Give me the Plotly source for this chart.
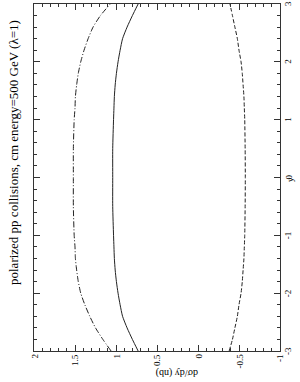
import plotly.graph_objects as go

# rapidity grid
rapidity = [-3.0, -2.8, -2.6, -2.4, -2.2, -2.0, -1.8, -1.6, -1.4, -1.2, -1.0, -0.5, 0.0,
            0.5, 1.0, 1.2, 1.4, 1.6, 1.8, 2.0, 2.2, 2.4, 2.6, 2.8, 3.0]
# dsigma/dy (nb) curves
dashdot_vals = [1.06, 1.16, 1.25, 1.32, 1.38, 1.43, 1.46, 1.48, 1.495, 1.50, 1.51, 1.52, 1.52,
                1.52, 1.51, 1.50, 1.495, 1.48, 1.46, 1.43, 1.39, 1.34, 1.28, 1.19, 1.07]
solid_vals = [0.73, 0.80, 0.865, 0.92, 0.95, 0.975, 0.995, 1.01, 1.02, 1.025, 1.03, 1.04, 1.04,
              1.04, 1.03, 1.025, 1.02, 1.01, 0.995, 0.975, 0.95, 0.92, 0.865, 0.80, 0.73]
dashed_vals = [-0.38, -0.42, -0.45, -0.48, -0.50, -0.525, -0.54, -0.55, -0.56, -0.565, -0.57, -0.575, -0.577,
               -0.575, -0.57, -0.565, -0.56, -0.55, -0.54, -0.525, -0.50, -0.48, -0.45, -0.42, -0.39]

xticks = [2, 1.5, 1, 0.5, 0, -0.5, -1]
xtick_labels = ["2", "1.5", "1", "0.5", "0", "-0.5", "-1"]
yticks = [-3, -2, -1, 0, 1, 2, 3]
ytick_labels = ["-3", "-2", "-1", "0", "1", "2", "3"]

title_text = "polarized pp collisions, cm energy=500 GeV (\u03bb=1)"
xlabel_text = "d\u03c3/dy (nb)"
ylabel_text = "y"

L, R, T, B = 34, 20, 4, 31
W, H = 300, 382
pw, ph = W - L - R, H - T - B

def px(xp):
    return (xp - L) / pw

def py(yp):
    return (H - B - yp) / ph

line_col = "#222"
axc = "#333"
font_tick = dict(family="Liberation Serif", size=9, color="black")

fig = go.Figure()
fig.add_trace(go.Scatter(x=dashdot_vals, y=rapidity, mode="lines",
                         line=dict(color=line_col, width=1, dash="6px,2px,1px,2px", shape="spline", smoothing=0.6)))
fig.add_trace(go.Scatter(x=solid_vals, y=rapidity, mode="lines",
                         line=dict(color=line_col, width=1, shape="spline", smoothing=0.6)))
fig.add_trace(go.Scatter(x=dashed_vals, y=rapidity, mode="lines",
                         line=dict(color=line_col, width=1, dash="4px,2px", shape="spline", smoothing=0.6)))
# empty trace to activate the mirror axes carrying ticks on the top/left sides
fig.add_trace(go.Scatter(x=[], y=[], xaxis="x2", yaxis="y2", hoverinfo="skip"))

common = dict(ticks="inside", ticklen=6, tickcolor=axc, tickwidth=1, showline=True,
              linecolor=axc, linewidth=1, showgrid=False, zeroline=False, showticklabels=False)

fig.update_layout(
    width=W, height=H, margin=dict(l=L, r=R, t=T, b=B),
    plot_bgcolor="white", paper_bgcolor="white", showlegend=False,
    xaxis=dict(range=[2, -1], tickmode="array", tickvals=xticks, side="bottom",
               minor=dict(dtick=0.1, tick0=0, ticks="inside", ticklen=3, tickcolor=axc, showgrid=False),
               **common),
    xaxis2=dict(range=[2, -1], tickmode="array", tickvals=xticks, side="top", overlaying="x", anchor="y",
                minor=dict(dtick=0.1, tick0=0, ticks="inside", ticklen=3, tickcolor=axc, showgrid=False),
                **common),
    yaxis=dict(range=[-3, 3], side="right", tickmode="array", tickvals=yticks,
               minor=dict(dtick=0.2, tick0=0, ticks="inside", ticklen=3, tickcolor=axc, showgrid=False),
               **common),
    yaxis2=dict(range=[-3, 3], side="left", tickmode="array", tickvals=yticks, overlaying="y", anchor="x",
                minor=dict(dtick=0.2, tick0=0, ticks="inside", ticklen=3, tickcolor=axc, showgrid=False),
                **common),
)

annotations = [
    dict(text=title_text, x=px(13), y=py(153), xref="paper", yref="paper", showarrow=False,
         xanchor="center", yanchor="middle",
         textangle=-90, font=dict(family="Liberation Serif", size=13, color="black")),
    dict(text=xlabel_text, x=px(177), y=py(373), xref="paper", yref="paper", showarrow=False,
         xanchor="center", yanchor="middle",
         textangle=180, font=dict(family="Liberation Serif", size=10, color="black")),
    dict(text=ylabel_text, x=px(290), y=py(180), xref="paper", yref="paper", showarrow=False,
         xanchor="center", yanchor="middle",
         textangle=-90, font=dict(family="Liberation Serif", size=9, color="black")),
]
for v, lab in zip(xticks, xtick_labels):
    annotations.append(dict(text=lab, x=v, xref="x", y=py(352), yref="paper", yanchor="top",
                            xanchor="center", showarrow=False, textangle=-90, font=font_tick))
for v, lab in zip(yticks, ytick_labels):
    annotations.append(dict(text=lab, y=v, yref="y", x=px(281), xref="paper", xanchor="left",
                            yanchor="middle", showarrow=False, textangle=-90, font=font_tick))
fig.update_layout(annotations=annotations)

fig.write_html("out.html", config={"staticPlot": True},
               post_script="document.body.style.margin='0';")
